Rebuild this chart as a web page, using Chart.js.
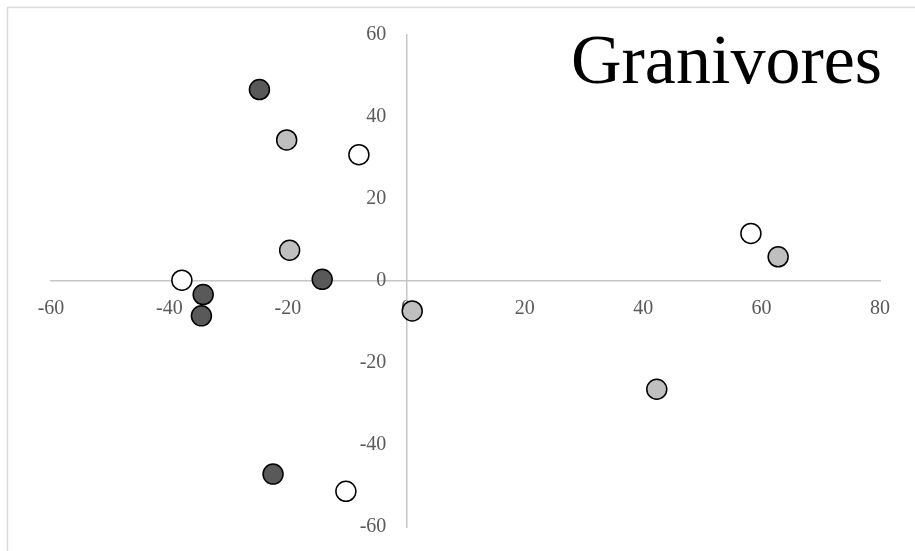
<!DOCTYPE html>
<html>
<head>
<meta charset="utf-8">
<script src="https://cdn.jsdelivr.net/npm/chart.js@4"></script>
<style>
    body { margin: 0; background: #fff; }
    #wrap { width: 915px; height: 551px; position: relative; }
</style>
</head>
<body>
<div id="wrap"><canvas id="myChart" width="915" height="551"></canvas></div>
<script>
// granivore groups, x/y
var darkX = [-24.8, -14.2, -34.3, -34.6, -22.5];
var darkY = [46.7, 0.4, -3.3, -8.5, -47.1];
var lightX = [-20.2, -19.7, 1.0, 42.3, 62.8];
var lightY = [34.4, 7.5, -7.3, -26.4, 5.9];
var whiteX = [-8.0, -37.9, -10.2, 58.2];
var whiteY = [30.8, 0.2, -51.3, 11.6];
var xTicks = [-60, -40, -20, 0, 20, 40, 60, 80];
var yTicks = [-60, -40, -20, 0, 20, 40, 60];
var chartTitle = 'Granivores';

function toPoints(xs, ys) {
    var pts = [];
    for (let i = 0; i < xs.length; i++) {
        pts.push({x: xs[i], y: ys[i]});
    }
    return pts;
}

function makeSet(label, xs, ys, fill) {
    return {
        label: label,
        data: toPoints(xs, ys),
        backgroundColor: fill,
        borderColor: '#000',
        borderWidth: 1.5,
        pointRadius: 10,
        pointHoverRadius: 10
    };
}

// outer frame and big title, drawn straight on the canvas
var decor = {
    id: 'decor',
    beforeDraw: function (chart) {
        var c = chart.ctx;
        c.save();
        c.fillStyle = '#fff';
        c.fillRect(0, 0, chart.width, chart.height);
        c.strokeStyle = '#d9d9d9';
        c.lineWidth = 1.5;
        c.beginPath();
        c.moveTo(7.5, chart.height);
        c.lineTo(7.5, 7.5);
        c.lineTo(chart.width, 7.5);
        c.stroke();
        c.restore();
    },
    afterDraw: function (chart) {
        var c = chart.ctx;
        c.save();
        c.font = '70px "Liberation Serif", "Times New Roman", serif';
        c.fillStyle = '#000';
        c.textAlign = 'right';
        c.textBaseline = 'alphabetic';
        c.fillText(chartTitle, 882, 83);
        c.restore();
    }
};

var tickFont = {family: '"Liberation Serif", "Times New Roman", serif', size: 20};

var ctx = document.getElementById('myChart').getContext('2d');
var myChart = new Chart(ctx, {
    type: 'scatter',
    data: {
        datasets: [
            makeSet('dark', darkX, darkY, '#595959'),
            makeSet('light', lightX, lightY, '#bfbfbf'),
            makeSet('white', whiteX, whiteY, '#ffffff')
        ]
    },
    options: {
        responsive: false,
        animation: false,
        layout: {
            padding: {left: 51, right: 35, top: 35, bottom: 24}
        },
        plugins: {
            legend: {display: false},
            title: {display: false},
            tooltip: {enabled: false}
        },
        scales: {
            x: {
                type: 'linear',
                position: {y: 0},
                min: -60,
                max: 80,
                afterBuildTicks: function (axis) {
                    axis.ticks = xTicks.map(function (v) { return {value: v}; });
                },
                grid: {display: false, drawTicks: false},
                border: {display: true, color: '#c6c6c6', width: 1.5},
                ticks: {color: '#595959', font: tickFont, padding: 16, maxRotation: 0, autoSkip: false}
            },
            y: {
                type: 'linear',
                position: {x: 0},
                min: -60,
                max: 60,
                afterBuildTicks: function (axis) {
                    axis.ticks = yTicks.map(function (v) { return {value: v}; });
                },
                grid: {display: false, drawTicks: false},
                border: {display: true, color: '#c6c6c6', width: 1.5},
                ticks: {
                    color: '#595959',
                    font: tickFont,
                    autoSkip: false,
                    // labels sit off the axis line; pad with trailing spaces
                    callback: function (value) { return value + '    '; }
                }
            }
        }
    },
    plugins: [decor]
});
</script>
</body>
</html>
